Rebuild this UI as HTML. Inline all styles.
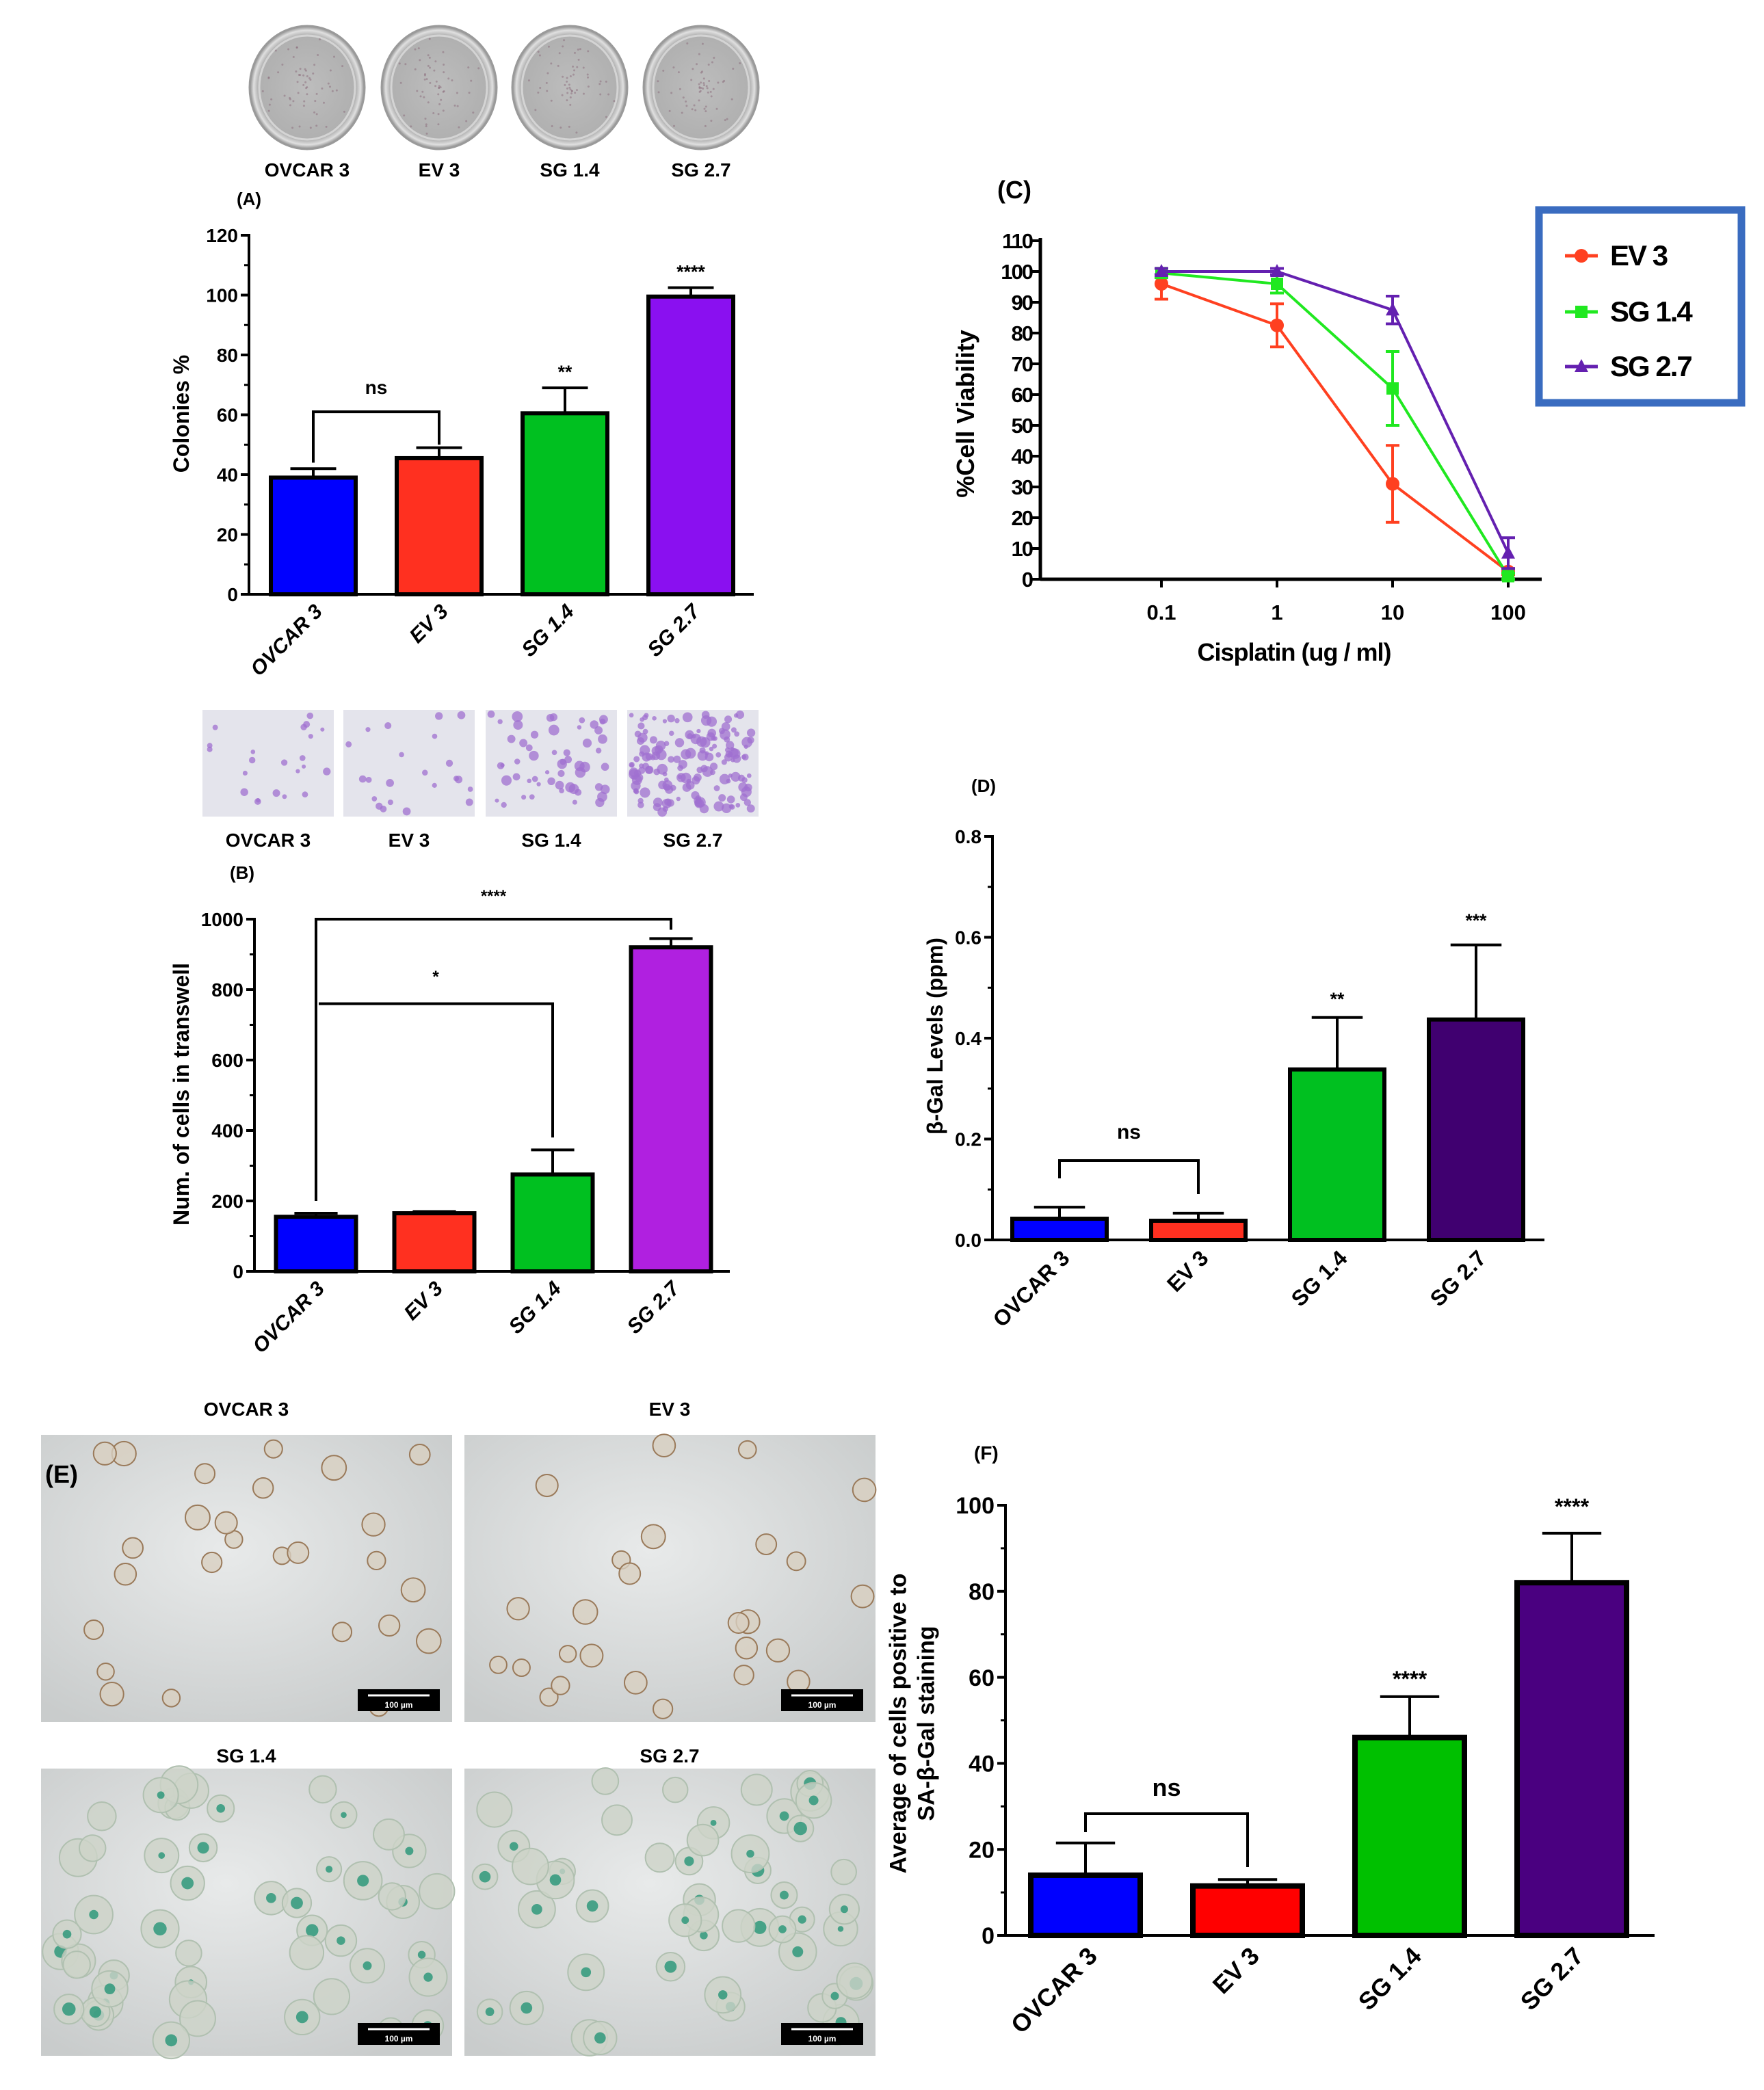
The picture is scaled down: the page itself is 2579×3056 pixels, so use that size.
<!DOCTYPE html>
<html><head><meta charset="utf-8"><style>
html,body{margin:0;padding:0;background:#fff;}
svg text{font-family:"Liberation Sans",Arial,sans-serif;font-weight:bold;}
</style></head><body>
<svg id="fig" width="2579" height="3051" viewBox="0 0 2579 3051" xmlns="http://www.w3.org/2000/svg">
<defs>
<radialGradient id="dish" cx="50%" cy="50%" r="50%"><stop offset="0" stop-color="#bdbdbd"/><stop offset="0.85" stop-color="#b0b0b0"/><stop offset="0.93" stop-color="#e0e0e0"/><stop offset="1" stop-color="#8a8a8a"/></radialGradient>
<radialGradient id="micro" cx="45%" cy="40%" r="70%"><stop offset="0" stop-color="#e8eaea"/><stop offset="1" stop-color="#c9cccc"/></radialGradient>
</defs>
<g id="root"></g>
</svg>
<script>
// ---------- data ----------
const categories = ["OVCAR 3","EV 3","SG 1.4","SG 2.7"];
const colonyValues = [39, 45.5, 60.5, 99.5];
const colonyErrors = [3, 3.5, 8.5, 3];
const colonyTicks = [0,20,40,60,80,100,120];
const transwellValues = [155, 165, 275, 920];
const transwellErrors = [10, 5, 70, 25];
const transwellTicks = [0,200,400,600,800,1000];
const galValues = [0.042, 0.038, 0.338, 0.437];
const galErrors = [0.023, 0.015, 0.103, 0.148];
const galTicks = [0,0.2,0.4,0.6,0.8];
const galTickLabels = ["0.0","0.2","0.4","0.6","0.8"];
const saValues = [14, 11.5, 46, 82];
const saErrors = [7.5, 1.5, 9.5, 11.5];
const saTicks = [0,20,40,60,80,100];
const doses = [0.1, 1, 10, 100];
const doseLabels = ["0.1","1","10","100"];
const viabilityTicks = [0,10,20,30,40,50,60,70,80,90,100,110];
const ev3Viability = [96, 82.5, 31, 2.5];
const ev3Err = [5, 7, 12.5, 1];
const sg14Viability = [99.5, 96, 62, 1];
const sg14Err = [1.5, 3, 12, 1];
const sg27Viability = [100, 100, 87.5, 8.5];
const sg27Err = [1, 1, 4.5, 5];

const NS="http://www.w3.org/2000/svg";
const root=document.getElementById('root');
function mk(tag,attrs,parent,txt){const e=document.createElementNS(NS,tag);for(const k in attrs)e.setAttribute(k,attrs[k]);if(txt!==undefined)e.textContent=txt;(parent||root).appendChild(e);return e;}
function grp(name){const g=mk('g',{});return g;}
let seed=12345;function rnd(){seed=(seed*1103515245+12345)%2147483648;return seed/2147483648;}

// ---------- generic bar chart ----------
function barChart(o){
  const g=grp(o.name);
  const y=v=>o.y0-(v/o.ymax)*(o.y0-o.yTop);
  const cx=i=>o.firstCenter+i*o.step;
  const ya=mk('line',{x1:o.ax,y1:o.yTop-2,x2:o.ax,y2:o.y0,stroke:'#000','stroke-width':o.axw||4},g);
  
  const xa=mk('line',{x1:o.ax,y1:o.y0,x2:o.axEnd,y2:o.y0,stroke:'#000','stroke-width':o.axw||4},g);
  
  o.ticks.forEach((t,i)=>{
    const ty=y(t);
    mk('line',{x1:o.ax-12,y1:ty,x2:o.ax,y2:ty,stroke:'#000','stroke-width':4},g);
    if(i<o.ticks.length-1){const my=y((t+o.ticks[i+1])/2);mk('line',{x1:o.ax-7,y1:my,x2:o.ax,y2:my,stroke:'#000','stroke-width':3},g);}
    const tl=mk('text',{x:o.ax-16,y:ty+o.fs*0.36,'text-anchor':'end','font-size':o.fs},g,o.tickLabels?o.tickLabels[i]:String(t));
    
  });
  o.values.forEach((v,i)=>{
    const c=cx(i),w=o.barW,top=y(v);
    const et=y(v+o.errors[i]);
    mk('line',{x1:c,y1:top,x2:c,y2:et,stroke:'#000','stroke-width':4},g);
    mk('line',{x1:c-w*0.27,y1:et,x2:c+w*0.27,y2:et,stroke:'#000','stroke-width':4},g);
    const r=mk('rect',{x:c-w/2,y:top,width:w,height:o.y0-top,fill:o.colors[i],stroke:'#000','stroke-width':o.bsw||6},g);
    
    
    const lx=c+o.barW*0.12, ly=o.y0+(o.cfs||o.fs)*0.9;
    const cl=mk('text',{x:lx,y:ly,'text-anchor':'end','font-size':o.cfs||o.fs,'font-style':o.italic?'italic':'normal',transform:`rotate(-45 ${lx} ${ly})`},g,categories[i]);
    
    if(o.stars&&o.stars[i]){const s=mk('text',{x:c,y:o.starY?o.starY[i]:et-14,'text-anchor':'middle','font-size':o.fs*0.95},g,o.stars[i]);
      }
  });
  const yt=mk('text',{x:o.titleX,y:o.titleY,'text-anchor':'middle','font-size':o.tfs||o.fs*1.1,transform:`rotate(-90 ${o.titleX} ${o.titleY})`},g);
  
  o.title.forEach((line,k)=>{mk('tspan',{x:o.titleX,dy:k===0?(-(o.title.length-1)*0.6+'em'):'1.2em'},yt,line);});
  return {g,y,cx};
}
function bracket(g,x1,x2,yTop,yL,yR,label,ly,fs){
  const p=mk('path',{d:`M${x1} ${yL} V${yTop} H${x2} V${yR}`,fill:'none',stroke:'#000','stroke-width':4},g);
  
  const t=mk('text',{x:(x1+x2)/2,y:ly,'text-anchor':'middle','font-size':fs,'font-weight':'normal'},g,label);
  
}
function label(x,y,txt,fs,name,anchor){const t=mk('text',{x,y,'font-size':fs,'text-anchor':anchor||'start'},root,txt);return t;}

// ---------- top dishes (A photos) ----------
const dishCenters=[449,642,833,1025];
dishCenters.forEach((c,i)=>{
  const e=mk('ellipse',{cx:c,cy:128,rx:84,ry:90,fill:'url(#dish)',stroke:'#9a9a9a','stroke-width':3});
  
  mk('ellipse',{cx:c,cy:128,rx:70,ry:76,fill:'none',stroke:'#d4d4d4','stroke-width':3});
  for(let k=0;k<60;k++){const a=rnd()*6.28,r=rnd()*68;mk('circle',{cx:c+Math.cos(a)*r,cy:128+Math.sin(a)*r*1.08,r:1.5,fill:'#8a6a7a','fill-opacity':0.5});}
  label(c,258,categories[i],28,'photo-label','middle');
});
label(346,300,'(A)',26,'panel-label-a');

// ---------- chart A ----------
const A=barChart({name:'colony-chart',ax:364,y0:869,yTop:344,ymax:120,axEnd:1102,firstCenter:458,step:184,barW:124,
  values:colonyValues,errors:colonyErrors,ticks:colonyTicks,colors:['#0000ff','#ff3020','#00c020','#8a10f0'],fs:28,cfs:30,italic:true,
  stars:[null,null,'**','****'],title:['Colonies %'],titleX:276,titleY:605,tfs:32});
bracket(A.g,A.cx(0),A.cx(1),A.y(61),A.y(44),A.y(50),'ns',A.y(61)-26,28);

// ---------- B photos ----------
const bx=[296,502,710,917];
bx.forEach((x,i)=>{
  const r=mk('rect',{x:x,y:1038,width:192,height:156,fill:'#e4e4ec'});
  
  const n=[22,22,55,160][i];
  for(let k=0;k<n;k++){const px=x+6+rnd()*180,py=1044+rnd()*144;
    mk('circle',{cx:px,cy:py,r:3+rnd()*(i<2?3:5),fill:'#a070d0','fill-opacity':0.75});}
  label(x+96,1238,categories[i],28,'photo-label','middle');
});
label(336,1285,'(B)',26,'panel-label-b');

// ---------- chart B ----------
const B=barChart({name:'transwell-chart',ax:372,y0:1859,yTop:1344,ymax:1000,axEnd:1067,firstCenter:462,step:173,barW:117,
  values:transwellValues,errors:transwellErrors,ticks:transwellTicks,colors:['#0000ff','#ff3020','#00c020','#b020e0'],fs:28,cfs:30,italic:true,
  title:['Num. of cells in transwell'],titleX:276,titleY:1600,tfs:32});
bracket(B.g,B.cx(0),B.cx(3),B.y(1000),B.y(200),B.y(970),'****',1318,24);
bracket(B.g,B.cx(0)+4,B.cx(2),B.y(760),B.y(760),B.y(380),'*',1436,24);

// ---------- chart C ----------
(function(){
  const g=grp('viability-chart');
  const ax=1521,y0=847,yTop=352,axEnd=2254;
  const y=v=>y0-(v/110)*(y0-yTop);
  const x=d=>1698+Math.log10(d/0.1)*169;
  mk('line',{x1:ax,y1:yTop-4,x2:ax,y2:y0,stroke:'#000','stroke-width':5},g);
  mk('line',{x1:ax,y1:y0,x2:axEnd,y2:y0,stroke:'#000','stroke-width':5},g);
  viabilityTicks.forEach(t=>{mk('line',{x1:ax-12,y1:y(t),x2:ax,y2:y(t),stroke:'#000','stroke-width':4},g);
    const tl=mk('text',{x:ax-12,y:y(t)+11,'text-anchor':'end','font-size':31,'letter-spacing':-2},g,String(t));
    });
  doses.forEach((d,i)=>{mk('line',{x1:x(d),y1:y0,x2:x(d),y2:y0+12,stroke:'#000','stroke-width':4},g);
    const tl=mk('text',{x:x(d),y:906,'text-anchor':'middle','font-size':31},g,doseLabels[i]);
    });
  const series=[[ev3Viability,ev3Err,'#ff4020','circle','EV 3'],[sg14Viability,sg14Err,'#20e820','square','SG 1.4'],[sg27Viability,sg27Err,'#6420b0','tri','SG 2.7']];
  series.forEach(([vals,errs,col,shape,nm])=>{
    const sg=mk('g',{},g);
    mk('polyline',{points:vals.map((v,i)=>x(doses[i])+','+y(v)).join(' '),fill:'none',stroke:col,'stroke-width':4},sg);
    vals.forEach((v,i)=>{const px=x(doses[i]),py=y(v);
      const t=y(Math.min(v+errs[i],110)),b=y(Math.max(v-errs[i],0));
      mk('path',{d:`M${px} ${t}V${b}M${px-10} ${t}H${px+10}M${px-10} ${b}H${px+10}`,stroke:col,'stroke-width':4,fill:'none'},sg);
      let m;
      if(shape==='circle')m=mk('circle',{cx:px,cy:py,r:10,fill:col},sg);
      else if(shape==='square')m=mk('rect',{x:px-9,y:py-9,width:18,height:18,fill:col},sg);
      else m=mk('path',{d:`M${px} ${py-11}L${px+10} ${py+8}L${px-10} ${py+8}Z`,fill:col},sg);
      
    });
  });
  const xt=mk('text',{x:1892,y:966,'text-anchor':'middle','font-size':36,'letter-spacing':-1},g,'Cisplatin (ug / ml)');
  
  const yt=mk('text',{x:1424,y:605,'text-anchor':'middle','font-size':36,transform:'rotate(-90 1424 605)'},g,'%Cell Viability');
  
  const lg=mk('g',{},g);
  mk('rect',{x:2250,y:307,width:296,height:282,fill:'#fff',stroke:'#3a6cc0','stroke-width':11},lg);
  const ly=[374,456,536];
  series.forEach(([v,e,col,shape,nm],k)=>{
    const le=mk('g',{},lg);
    mk('line',{x1:2288,y1:ly[k],x2:2336,y2:ly[k],stroke:col,'stroke-width':5},le);
    if(shape==='circle')mk('circle',{cx:2312,cy:ly[k],r:10,fill:col},le);
    else if(shape==='square')mk('rect',{x:2303,y:ly[k]-9,width:18,height:18,fill:col},le);
    else mk('path',{d:`M2312 ${ly[k]-11}L2322 ${ly[k]+8}L2302 ${ly[k]+8}Z`,fill:col},le);
    mk('text',{x:2354,y:ly[k]+14,'font-size':42,'font-weight':'normal','letter-spacing':-2},le,nm);
  });
})();
label(1458,290,'(C)',36,'panel-label-c');

// ---------- chart D ----------
label(1420,1158,'(D)',26,'panel-label-d');
const D=barChart({name:'beta-gal-chart',ax:1451,y0:1813,yTop:1223,ymax:0.8,axEnd:2258,firstCenter:1549,step:203,barW:138,
  values:galValues,errors:galErrors,ticks:galTicks,tickLabels:galTickLabels,colors:['#0000ff','#ff3020','#00c020','#400070'],fs:28,cfs:32,
  stars:[null,null,'**','***'],starY:[0,0,1470,1355],title:['β-Gal Levels (ppm)'],titleX:1378,titleY:1515,tfs:32});
bracket(D.g,D.cx(0),D.cx(1),1697,1723,1746,'ns',1665,30);

// ---------- E micrographs ----------
const ePos=[[60,2098],[679,2098],[60,2586],[679,2586]];
const eTitles=['OVCAR 3','EV 3','SG 1.4','SG 2.7'];
const eLabelY=[2070,2070,2577,2577];
ePos.forEach(([x,y],i)=>{
  const r=mk('rect',{x,y,width:601,height:420,fill:'url(#micro)'});
  
  const n=i<2?26:50;
  for(let k=0;k<n;k++){const px=x+15+rnd()*570,py=y+15+rnd()*390;
    const rr=i<2?12+rnd()*6:18+rnd()*10;
    mk('circle',{cx:px,cy:py,r:rr,fill:i<2?'#d8cfc0':'#cdd3c8',stroke:i<2?'#9a7a5a':'#b0c0b0','stroke-width':2,'fill-opacity':0.8});
    if(i>=2&&rnd()<0.6)mk('circle',{cx:px,cy:py,r:4+rnd()*6,fill:'#1a9070','fill-opacity':0.75});}
  const sb=mk('rect',{x:x+463,y:y+372,width:120,height:32,fill:'#000'});
  
  mk('line',{x1:x+478,y1:y+381,x2:x+568,y2:y+381,stroke:'#fff','stroke-width':3});
  mk('text',{x:x+523,y:y+399,'text-anchor':'middle','font-size':12,'font-weight':'normal',fill:'#fff'},root,'100 µm');
  label(x+300,eLabelY[i],eTitles[i],28,'micrograph-title','middle');
});
label(66,2168,'(E)',36,'panel-label-e');

// ---------- chart F ----------
label(1424,2134,'(F)',28,'panel-label-f');
const F=barChart({name:'sa-beta-gal-chart',ax:1470,y0:2830,yTop:2201,ymax:100,axEnd:2419,firstCenter:1587,step:237,barW:160,
  values:saValues,errors:saErrors,ticks:saTicks,colors:['#0000ff','#ff0000','#00c000','#4a0080'],fs:34,bsw:8,
  stars:[null,null,'****','****'],starY:[0,0,2466,2214],title:['Average of cells positive to','SA-β-Gal staining'],titleX:1345,titleY:2520,tfs:34,cfs:36});
bracket(F.g,F.cx(0),F.cx(1),2652,2679,2730,'ns',2626,36);
</script>
</body></html>
